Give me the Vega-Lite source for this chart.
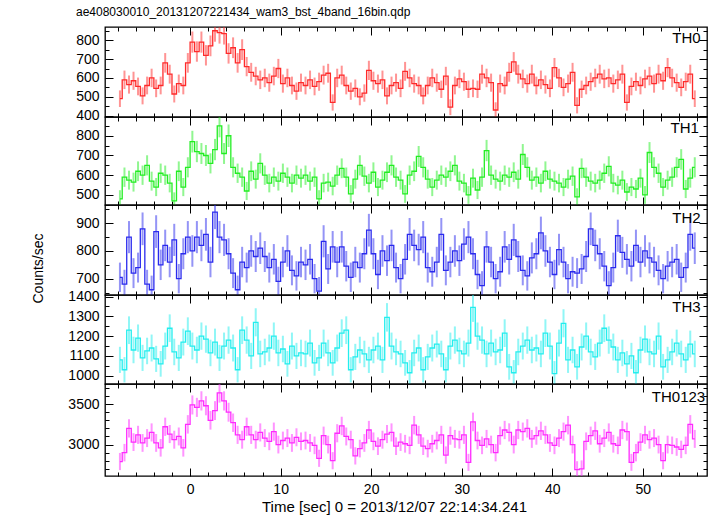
{
"$schema":"https://vega.github.io/schema/vega-lite/v6.json",
"padding":{"left":30,"top":5,"right":5,"bottom":5},
"spacing":0,
"bounds":"flush",
"config":{"view":{"stroke":"#000","strokeWidth":1.3},"axis":{"grid":false,"domain":false,"labelFont":"Liberation Sans","labelFontSize":14,"labelColor":"#000","tickColor":"#000","tickWidth":1,"labelFlush":false,"labelOverlap":false,"titleFont":"Liberation Sans","titleFontWeight":"normal","titleColor":"#000"}},
"datasets":{
"TH0":[
{"t":-7.75,"y":490,"e":44},{"t":-7.25,"y":590,"e":49},{"t":-6.75,"y":565,"e":48},{"t":-6.25,"y":585,"e":48},{"t":-5.75,"y":555,"e":47},{"t":-5.25,"y":505,"e":45},{"t":-4.75,"y":560,"e":47},{"t":-4.25,"y":600,"e":49},{"t":-3.75,"y":545,"e":47},{"t":-3.25,"y":560,"e":47},{"t":-2.75,"y":680,"e":52},{"t":-2.25,"y":620,"e":50},{"t":-1.75,"y":515,"e":45},{"t":-1.25,"y":570,"e":48},{"t":-0.75,"y":560,"e":47},{"t":-0.25,"y":680,"e":52},
{"t":0.25,"y":790,"e":56},{"t":0.75,"y":740,"e":54},{"t":1.25,"y":790,"e":56},{"t":1.75,"y":720,"e":54},{"t":2.25,"y":770,"e":55},{"t":2.75,"y":850,"e":58},{"t":3.25,"y":840,"e":58},{"t":3.75,"y":835,"e":58},{"t":4.25,"y":730,"e":54},{"t":4.75,"y":760,"e":55},{"t":5.25,"y":680,"e":52},{"t":5.75,"y":750,"e":55},{"t":6.25,"y":660,"e":51},{"t":6.75,"y":630,"e":50},{"t":7.25,"y":610,"e":49},{"t":7.75,"y":590,"e":49},
{"t":8.25,"y":600,"e":49},{"t":8.75,"y":575,"e":48},{"t":9.25,"y":610,"e":49},{"t":9.75,"y":650,"e":51},{"t":10.25,"y":570,"e":48},{"t":10.75,"y":600,"e":49},{"t":11.25,"y":560,"e":47},{"t":11.75,"y":530,"e":46},{"t":12.25,"y":575,"e":48},{"t":12.75,"y":560,"e":47},{"t":13.25,"y":590,"e":49},{"t":13.75,"y":555,"e":47},{"t":14.25,"y":580,"e":48},{"t":14.75,"y":615,"e":50},{"t":15.25,"y":625,"e":50},{"t":15.75,"y":470,"e":43},
{"t":16.25,"y":600,"e":49},{"t":16.75,"y":615,"e":50},{"t":17.25,"y":560,"e":47},{"t":17.75,"y":530,"e":46},{"t":18.25,"y":545,"e":47},{"t":18.75,"y":500,"e":45},{"t":19.25,"y":520,"e":46},{"t":19.75,"y":640,"e":51},{"t":20.25,"y":585,"e":48},{"t":20.75,"y":570,"e":48},{"t":21.25,"y":590,"e":49},{"t":21.75,"y":505,"e":45},{"t":22.25,"y":560,"e":47},{"t":22.75,"y":575,"e":48},{"t":23.25,"y":545,"e":47},{"t":23.75,"y":635,"e":50},
{"t":24.25,"y":600,"e":49},{"t":24.75,"y":570,"e":48},{"t":25.25,"y":560,"e":47},{"t":25.75,"y":505,"e":45},{"t":26.25,"y":560,"e":47},{"t":26.75,"y":600,"e":49},{"t":27.25,"y":575,"e":48},{"t":27.75,"y":540,"e":46},{"t":28.25,"y":610,"e":49},{"t":28.75,"y":445,"e":42},{"t":29.25,"y":560,"e":47},{"t":29.75,"y":595,"e":49},{"t":30.25,"y":580,"e":48},{"t":30.75,"y":540,"e":46},{"t":31.25,"y":545,"e":47},{"t":31.75,"y":540,"e":46},
{"t":32.25,"y":620,"e":50},{"t":32.75,"y":600,"e":49},{"t":33.25,"y":575,"e":48},{"t":33.75,"y":430,"e":41},{"t":34.25,"y":570,"e":48},{"t":34.75,"y":560,"e":47},{"t":35.25,"y":630,"e":50},{"t":35.75,"y":685,"e":52},{"t":36.25,"y":620,"e":50},{"t":36.75,"y":595,"e":49},{"t":37.25,"y":570,"e":48},{"t":37.75,"y":620,"e":50},{"t":38.25,"y":560,"e":47},{"t":38.75,"y":590,"e":49},{"t":39.25,"y":565,"e":48},{"t":39.75,"y":545,"e":47},
{"t":40.25,"y":655,"e":51},{"t":40.75,"y":600,"e":49},{"t":41.25,"y":550,"e":47},{"t":41.75,"y":570,"e":48},{"t":42.25,"y":630,"e":50},{"t":42.75,"y":455,"e":43},{"t":43.25,"y":540,"e":46},{"t":43.75,"y":560,"e":47},{"t":44.25,"y":580,"e":48},{"t":44.75,"y":600,"e":49},{"t":45.25,"y":620,"e":50},{"t":45.75,"y":595,"e":49},{"t":46.25,"y":600,"e":49},{"t":46.75,"y":570,"e":48},{"t":47.25,"y":590,"e":49},{"t":47.75,"y":620,"e":50},
{"t":48.25,"y":470,"e":43},{"t":48.75,"y":555,"e":47},{"t":49.25,"y":580,"e":48},{"t":49.75,"y":560,"e":47},{"t":50.25,"y":595,"e":49},{"t":50.75,"y":610,"e":49},{"t":51.25,"y":570,"e":48},{"t":51.75,"y":620,"e":50},{"t":52.25,"y":585,"e":48},{"t":52.75,"y":655,"e":51},{"t":53.25,"y":600,"e":49},{"t":53.75,"y":575,"e":48},{"t":54.25,"y":550,"e":47},{"t":54.75,"y":580,"e":48},{"t":55.25,"y":620,"e":50},{"t":55.75,"y":490,"e":44}
],
"TH1":[
{"t":-7.75,"y":480,"e":44},{"t":-7.25,"y":590,"e":49},{"t":-6.75,"y":575,"e":48},{"t":-6.25,"y":565,"e":48},{"t":-5.75,"y":620,"e":50},{"t":-5.25,"y":600,"e":49},{"t":-4.75,"y":650,"e":51},{"t":-4.25,"y":570,"e":48},{"t":-3.75,"y":540,"e":46},{"t":-3.25,"y":610,"e":49},{"t":-2.75,"y":600,"e":49},{"t":-2.25,"y":560,"e":47},{"t":-1.75,"y":470,"e":43},{"t":-1.25,"y":620,"e":50},{"t":-0.75,"y":540,"e":46},{"t":-0.25,"y":640,"e":51},
{"t":0.25,"y":770,"e":55},{"t":0.75,"y":720,"e":54},{"t":1.25,"y":710,"e":53},{"t":1.75,"y":700,"e":53},{"t":2.25,"y":660,"e":51},{"t":2.75,"y":730,"e":54},{"t":3.25,"y":850,"e":58},{"t":3.75,"y":710,"e":53},{"t":4.25,"y":800,"e":57},{"t":4.75,"y":640,"e":51},{"t":5.25,"y":610,"e":49},{"t":5.75,"y":590,"e":49},{"t":6.25,"y":520,"e":46},{"t":6.75,"y":620,"e":50},{"t":7.25,"y":580,"e":48},{"t":7.75,"y":660,"e":51},
{"t":8.25,"y":600,"e":49},{"t":8.75,"y":560,"e":47},{"t":9.25,"y":590,"e":49},{"t":9.75,"y":570,"e":48},{"t":10.25,"y":610,"e":49},{"t":10.75,"y":590,"e":49},{"t":11.25,"y":560,"e":47},{"t":11.75,"y":600,"e":49},{"t":12.25,"y":585,"e":48},{"t":12.75,"y":600,"e":49},{"t":13.25,"y":570,"e":48},{"t":13.75,"y":590,"e":49},{"t":14.25,"y":480,"e":44},{"t":14.75,"y":560,"e":47},{"t":15.25,"y":565,"e":48},{"t":15.75,"y":545,"e":47},
{"t":16.25,"y":600,"e":49},{"t":16.75,"y":635,"e":50},{"t":17.25,"y":590,"e":49},{"t":17.75,"y":505,"e":45},{"t":18.25,"y":580,"e":48},{"t":18.75,"y":650,"e":51},{"t":19.25,"y":595,"e":49},{"t":19.75,"y":560,"e":47},{"t":20.25,"y":615,"e":50},{"t":20.75,"y":540,"e":46},{"t":21.25,"y":575,"e":48},{"t":21.75,"y":615,"e":50},{"t":22.25,"y":650,"e":51},{"t":22.75,"y":590,"e":49},{"t":23.25,"y":575,"e":48},{"t":23.75,"y":505,"e":45},
{"t":24.25,"y":600,"e":49},{"t":24.75,"y":620,"e":50},{"t":25.25,"y":695,"e":53},{"t":25.75,"y":640,"e":51},{"t":26.25,"y":580,"e":48},{"t":26.75,"y":540,"e":46},{"t":27.25,"y":575,"e":48},{"t":27.75,"y":600,"e":49},{"t":28.25,"y":590,"e":49},{"t":28.75,"y":620,"e":50},{"t":29.25,"y":650,"e":51},{"t":29.75,"y":570,"e":48},{"t":30.25,"y":560,"e":47},{"t":30.75,"y":500,"e":45},{"t":31.25,"y":585,"e":48},{"t":31.75,"y":525,"e":46},
{"t":32.25,"y":590,"e":49},{"t":32.75,"y":725,"e":54},{"t":33.25,"y":600,"e":49},{"t":33.75,"y":580,"e":48},{"t":34.25,"y":570,"e":48},{"t":34.75,"y":600,"e":49},{"t":35.25,"y":590,"e":49},{"t":35.75,"y":615,"e":50},{"t":36.25,"y":580,"e":48},{"t":36.75,"y":705,"e":53},{"t":37.25,"y":640,"e":51},{"t":37.75,"y":575,"e":48},{"t":38.25,"y":590,"e":49},{"t":38.75,"y":560,"e":47},{"t":39.25,"y":620,"e":50},{"t":39.75,"y":580,"e":48},
{"t":40.25,"y":570,"e":48},{"t":40.75,"y":560,"e":47},{"t":41.25,"y":540,"e":46},{"t":41.75,"y":580,"e":48},{"t":42.25,"y":595,"e":49},{"t":42.75,"y":490,"e":44},{"t":43.25,"y":635,"e":50},{"t":43.75,"y":590,"e":49},{"t":44.25,"y":570,"e":48},{"t":44.75,"y":560,"e":47},{"t":45.25,"y":575,"e":48},{"t":45.75,"y":610,"e":49},{"t":46.25,"y":645,"e":51},{"t":46.75,"y":560,"e":47},{"t":47.25,"y":550,"e":47},{"t":47.75,"y":575,"e":48},
{"t":48.25,"y":515,"e":45},{"t":48.75,"y":540,"e":46},{"t":49.25,"y":530,"e":46},{"t":49.75,"y":585,"e":48},{"t":50.25,"y":500,"e":45},{"t":50.75,"y":715,"e":53},{"t":51.25,"y":640,"e":51},{"t":51.75,"y":610,"e":49},{"t":52.25,"y":540,"e":46},{"t":52.75,"y":575,"e":48},{"t":53.25,"y":590,"e":49},{"t":53.75,"y":640,"e":51},{"t":54.25,"y":680,"e":52},{"t":54.75,"y":530,"e":46},{"t":55.25,"y":585,"e":48},{"t":55.75,"y":640,"e":51}
],
"TH2":[
{"t":-7.75,"y":705,"e":53},{"t":-7.25,"y":680,"e":52},{"t":-6.75,"y":850,"e":58},{"t":-6.25,"y":720,"e":54},{"t":-5.75,"y":740,"e":54},{"t":-5.25,"y":880,"e":59},{"t":-4.75,"y":680,"e":52},{"t":-4.25,"y":660,"e":51},{"t":-3.75,"y":870,"e":59},{"t":-3.25,"y":750,"e":55},{"t":-2.75,"y":820,"e":57},{"t":-2.25,"y":760,"e":55},{"t":-1.75,"y":840,"e":58},{"t":-1.25,"y":700,"e":53},{"t":-0.75,"y":790,"e":56},{"t":-0.25,"y":850,"e":58},
{"t":0.25,"y":800,"e":57},{"t":0.75,"y":850,"e":58},{"t":1.25,"y":820,"e":57},{"t":1.75,"y":860,"e":59},{"t":2.25,"y":760,"e":55},{"t":2.75,"y":940,"e":61},{"t":3.25,"y":850,"e":58},{"t":3.75,"y":840,"e":58},{"t":4.25,"y":790,"e":56},{"t":4.75,"y":720,"e":54},{"t":5.25,"y":660,"e":51},{"t":5.75,"y":760,"e":55},{"t":6.25,"y":740,"e":54},{"t":6.75,"y":800,"e":57},{"t":7.25,"y":780,"e":56},{"t":7.75,"y":810,"e":57},
{"t":8.25,"y":780,"e":56},{"t":8.75,"y":740,"e":54},{"t":9.25,"y":770,"e":55},{"t":9.75,"y":690,"e":53},{"t":10.25,"y":760,"e":55},{"t":10.75,"y":800,"e":57},{"t":11.25,"y":730,"e":54},{"t":11.75,"y":710,"e":53},{"t":12.25,"y":760,"e":55},{"t":12.75,"y":750,"e":55},{"t":13.25,"y":770,"e":55},{"t":13.75,"y":700,"e":53},{"t":14.25,"y":655,"e":51},{"t":14.75,"y":835,"e":58},{"t":15.25,"y":735,"e":54},{"t":15.75,"y":815,"e":57},
{"t":16.25,"y":760,"e":55},{"t":16.75,"y":815,"e":57},{"t":17.25,"y":745,"e":55},{"t":17.75,"y":705,"e":53},{"t":18.25,"y":760,"e":55},{"t":18.75,"y":740,"e":54},{"t":19.25,"y":790,"e":56},{"t":19.75,"y":875,"e":59},{"t":20.25,"y":790,"e":56},{"t":20.75,"y":715,"e":53},{"t":21.25,"y":800,"e":57},{"t":21.75,"y":765,"e":55},{"t":22.25,"y":820,"e":57},{"t":22.75,"y":740,"e":54},{"t":23.25,"y":700,"e":53},{"t":23.75,"y":770,"e":55},
{"t":24.25,"y":860,"e":59},{"t":24.75,"y":820,"e":57},{"t":25.25,"y":805,"e":57},{"t":25.75,"y":850,"e":58},{"t":26.25,"y":740,"e":54},{"t":26.75,"y":725,"e":54},{"t":27.25,"y":760,"e":55},{"t":27.75,"y":860,"e":59},{"t":28.25,"y":730,"e":54},{"t":28.75,"y":760,"e":55},{"t":29.25,"y":800,"e":57},{"t":29.75,"y":765,"e":55},{"t":30.25,"y":825,"e":57},{"t":30.75,"y":850,"e":58},{"t":31.25,"y":790,"e":56},{"t":31.75,"y":715,"e":53},
{"t":32.25,"y":675,"e":52},{"t":32.75,"y":815,"e":57},{"t":33.25,"y":760,"e":55},{"t":33.75,"y":700,"e":53},{"t":34.25,"y":725,"e":54},{"t":34.75,"y":815,"e":57},{"t":35.25,"y":770,"e":55},{"t":35.75,"y":840,"e":58},{"t":36.25,"y":780,"e":56},{"t":36.75,"y":730,"e":54},{"t":37.25,"y":710,"e":53},{"t":37.75,"y":775,"e":56},{"t":38.25,"y":790,"e":56},{"t":38.75,"y":865,"e":59},{"t":39.25,"y":800,"e":57},{"t":39.75,"y":760,"e":55},
{"t":40.25,"y":715,"e":53},{"t":40.75,"y":805,"e":57},{"t":41.25,"y":760,"e":55},{"t":41.75,"y":700,"e":53},{"t":42.25,"y":725,"e":54},{"t":42.75,"y":720,"e":54},{"t":43.25,"y":735,"e":54},{"t":43.75,"y":780,"e":56},{"t":44.25,"y":880,"e":59},{"t":44.75,"y":820,"e":57},{"t":45.25,"y":790,"e":56},{"t":45.75,"y":745,"e":55},{"t":46.25,"y":675,"e":52},{"t":46.75,"y":740,"e":54},{"t":47.25,"y":855,"e":58},{"t":47.75,"y":795,"e":56},
{"t":48.25,"y":770,"e":55},{"t":48.75,"y":745,"e":55},{"t":49.25,"y":820,"e":57},{"t":49.75,"y":760,"e":55},{"t":50.25,"y":800,"e":57},{"t":50.75,"y":775,"e":56},{"t":51.25,"y":760,"e":55},{"t":51.75,"y":730,"e":54},{"t":52.25,"y":700,"e":53},{"t":52.75,"y":745,"e":55},{"t":53.25,"y":760,"e":55},{"t":53.75,"y":770,"e":55},{"t":54.25,"y":705,"e":53},{"t":54.75,"y":740,"e":54},{"t":55.25,"y":860,"e":59},{"t":55.75,"y":810,"e":57}
],
"TH3":[
{"t":-7.75,"y":1080,"e":66},{"t":-7.25,"y":1030,"e":64},{"t":-6.75,"y":1230,"e":70},{"t":-6.25,"y":1130,"e":67},{"t":-5.75,"y":1190,"e":69},{"t":-5.25,"y":1090,"e":66},{"t":-4.75,"y":1125,"e":67},{"t":-4.25,"y":1140,"e":68},{"t":-3.75,"y":1085,"e":66},{"t":-3.25,"y":1060,"e":65},{"t":-2.75,"y":1150,"e":68},{"t":-2.25,"y":1240,"e":70},{"t":-1.75,"y":1120,"e":67},{"t":-1.25,"y":1090,"e":66},{"t":-0.75,"y":1170,"e":68},{"t":-0.25,"y":1225,"e":70},
{"t":0.25,"y":1150,"e":68},{"t":0.75,"y":1130,"e":67},{"t":1.25,"y":1200,"e":69},{"t":1.75,"y":1185,"e":69},{"t":2.25,"y":1115,"e":67},{"t":2.75,"y":1170,"e":68},{"t":3.25,"y":1090,"e":66},{"t":3.75,"y":1150,"e":68},{"t":4.25,"y":1180,"e":69},{"t":4.75,"y":1140,"e":68},{"t":5.25,"y":1030,"e":64},{"t":5.75,"y":1230,"e":70},{"t":6.25,"y":1180,"e":69},{"t":6.75,"y":1100,"e":66},{"t":7.25,"y":1270,"e":71},{"t":7.75,"y":1110,"e":67},
{"t":8.25,"y":1120,"e":67},{"t":8.75,"y":1140,"e":68},{"t":9.25,"y":1200,"e":69},{"t":9.75,"y":1115,"e":67},{"t":10.25,"y":1135,"e":67},{"t":10.75,"y":1060,"e":65},{"t":11.25,"y":1150,"e":68},{"t":11.75,"y":1100,"e":66},{"t":12.25,"y":1115,"e":67},{"t":12.75,"y":1110,"e":67},{"t":13.25,"y":1165,"e":68},{"t":13.75,"y":1065,"e":65},{"t":14.25,"y":1090,"e":66},{"t":14.75,"y":1165,"e":68},{"t":15.25,"y":1115,"e":67},{"t":15.75,"y":1065,"e":65},
{"t":16.25,"y":1140,"e":68},{"t":16.75,"y":1215,"e":70},{"t":17.25,"y":1230,"e":70},{"t":17.75,"y":1030,"e":64},{"t":18.25,"y":1095,"e":66},{"t":18.75,"y":1130,"e":67},{"t":19.25,"y":1110,"e":67},{"t":19.75,"y":1080,"e":66},{"t":20.25,"y":1130,"e":67},{"t":20.75,"y":1150,"e":68},{"t":21.25,"y":1080,"e":66},{"t":21.75,"y":1295,"e":72},{"t":22.25,"y":1150,"e":68},{"t":22.75,"y":1120,"e":67},{"t":23.25,"y":1110,"e":67},{"t":23.75,"y":1065,"e":65},
{"t":24.25,"y":1015,"e":64},{"t":24.75,"y":1115,"e":67},{"t":25.25,"y":1140,"e":68},{"t":25.75,"y":1030,"e":64},{"t":26.25,"y":1095,"e":66},{"t":26.75,"y":1140,"e":68},{"t":27.25,"y":1160,"e":68},{"t":27.75,"y":1110,"e":67},{"t":28.25,"y":1030,"e":64},{"t":28.75,"y":1150,"e":68},{"t":29.25,"y":1180,"e":69},{"t":29.75,"y":1125,"e":67},{"t":30.25,"y":1110,"e":67},{"t":30.75,"y":1165,"e":68},{"t":31.25,"y":1345,"e":73},{"t":31.75,"y":1200,"e":69},
{"t":32.25,"y":1180,"e":69},{"t":32.75,"y":1110,"e":67},{"t":33.25,"y":1165,"e":68},{"t":33.75,"y":1120,"e":67},{"t":34.25,"y":1130,"e":67},{"t":34.75,"y":1215,"e":70},{"t":35.25,"y":1045,"e":65},{"t":35.75,"y":1015,"e":64},{"t":36.25,"y":1120,"e":67},{"t":36.75,"y":1150,"e":68},{"t":37.25,"y":1180,"e":69},{"t":37.75,"y":1130,"e":67},{"t":38.25,"y":1140,"e":68},{"t":38.75,"y":1110,"e":67},{"t":39.25,"y":1215,"e":70},{"t":39.75,"y":1150,"e":68},
{"t":40.25,"y":1010,"e":64},{"t":40.75,"y":1165,"e":68},{"t":41.25,"y":1265,"e":71},{"t":41.75,"y":1080,"e":66},{"t":42.25,"y":1130,"e":67},{"t":42.75,"y":1045,"e":65},{"t":43.25,"y":1145,"e":68},{"t":43.75,"y":1200,"e":69},{"t":44.25,"y":1120,"e":67},{"t":44.75,"y":1095,"e":66},{"t":45.25,"y":1165,"e":68},{"t":45.75,"y":1240,"e":70},{"t":46.25,"y":1180,"e":69},{"t":46.75,"y":1145,"e":68},{"t":47.25,"y":1080,"e":66},{"t":47.75,"y":1115,"e":67},
{"t":48.25,"y":1060,"e":65},{"t":48.75,"y":1100,"e":66},{"t":49.25,"y":1015,"e":64},{"t":49.75,"y":1130,"e":67},{"t":50.25,"y":1185,"e":69},{"t":50.75,"y":1120,"e":67},{"t":51.25,"y":1110,"e":67},{"t":51.75,"y":1200,"e":69},{"t":52.25,"y":1045,"e":65},{"t":52.75,"y":1080,"e":66},{"t":53.25,"y":1120,"e":67},{"t":53.75,"y":1165,"e":68},{"t":54.25,"y":1110,"e":67},{"t":54.75,"y":1080,"e":66},{"t":55.25,"y":1160,"e":68},{"t":55.75,"y":1110,"e":67}
],
"TH0123":[
{"t":-7.75,"y":2790,"e":106},{"t":-7.25,"y":2900,"e":108},{"t":-6.75,"y":3200,"e":113},{"t":-6.25,"y":3030,"e":110},{"t":-5.75,"y":3120,"e":112},{"t":-5.25,"y":3020,"e":110},{"t":-4.75,"y":3080,"e":111},{"t":-4.25,"y":3150,"e":112},{"t":-3.75,"y":3020,"e":110},{"t":-3.25,"y":2960,"e":109},{"t":-2.75,"y":3220,"e":113},{"t":-2.25,"y":3130,"e":112},{"t":-1.75,"y":3060,"e":111},{"t":-1.25,"y":3100,"e":111},{"t":-0.75,"y":2960,"e":109},{"t":-0.25,"y":3250,"e":114},
{"t":0.25,"y":3490,"e":118},{"t":0.75,"y":3460,"e":118},{"t":1.25,"y":3540,"e":119},{"t":1.75,"y":3480,"e":118},{"t":2.25,"y":3300,"e":115},{"t":2.75,"y":3420,"e":117},{"t":3.25,"y":3640,"e":121},{"t":3.75,"y":3540,"e":119},{"t":4.25,"y":3400,"e":117},{"t":4.75,"y":3270,"e":114},{"t":5.25,"y":3120,"e":112},{"t":5.75,"y":3060,"e":111},{"t":6.25,"y":3220,"e":113},{"t":6.75,"y":3120,"e":112},{"t":7.25,"y":3060,"e":111},{"t":7.75,"y":3150,"e":112},
{"t":8.25,"y":3080,"e":111},{"t":8.75,"y":3040,"e":110},{"t":9.25,"y":3160,"e":112},{"t":9.75,"y":3000,"e":110},{"t":10.25,"y":3050,"e":110},{"t":10.75,"y":3080,"e":111},{"t":11.25,"y":3020,"e":110},{"t":11.75,"y":3090,"e":111},{"t":12.25,"y":3040,"e":110},{"t":12.75,"y":3050,"e":110},{"t":13.25,"y":3020,"e":110},{"t":13.75,"y":2990,"e":109},{"t":14.25,"y":2830,"e":106},{"t":14.75,"y":3110,"e":112},{"t":15.25,"y":3000,"e":110},{"t":15.75,"y":2800,"e":106},
{"t":16.25,"y":3140,"e":112},{"t":16.75,"y":3230,"e":114},{"t":17.25,"y":3100,"e":111},{"t":17.75,"y":3060,"e":111},{"t":18.25,"y":2860,"e":107},{"t":18.75,"y":2950,"e":109},{"t":19.25,"y":3020,"e":110},{"t":19.75,"y":3180,"e":113},{"t":20.25,"y":3040,"e":110},{"t":20.75,"y":2980,"e":109},{"t":21.25,"y":3060,"e":111},{"t":21.75,"y":3130,"e":112},{"t":22.25,"y":3150,"e":112},{"t":22.75,"y":2980,"e":109},{"t":23.25,"y":3030,"e":110},{"t":23.75,"y":3010,"e":110},
{"t":24.25,"y":2990,"e":109},{"t":24.75,"y":3240,"e":114},{"t":25.25,"y":3120,"e":112},{"t":25.75,"y":2980,"e":109},{"t":26.25,"y":2950,"e":109},{"t":26.75,"y":3010,"e":110},{"t":27.25,"y":3050,"e":110},{"t":27.75,"y":3120,"e":112},{"t":28.25,"y":2870,"e":107},{"t":28.75,"y":3110,"e":112},{"t":29.25,"y":3070,"e":111},{"t":29.75,"y":3060,"e":111},{"t":30.25,"y":3120,"e":112},{"t":30.75,"y":2780,"e":105},{"t":31.25,"y":3280,"e":115},{"t":31.75,"y":3050,"e":110},
{"t":32.25,"y":2990,"e":109},{"t":32.75,"y":3070,"e":111},{"t":33.25,"y":3000,"e":110},{"t":33.75,"y":2900,"e":108},{"t":34.25,"y":3110,"e":112},{"t":34.75,"y":3180,"e":113},{"t":35.25,"y":3150,"e":112},{"t":35.75,"y":3000,"e":110},{"t":36.25,"y":3180,"e":113},{"t":36.75,"y":3160,"e":112},{"t":37.25,"y":3200,"e":113},{"t":37.75,"y":3070,"e":111},{"t":38.25,"y":3110,"e":112},{"t":38.75,"y":3170,"e":113},{"t":39.25,"y":3120,"e":112},{"t":39.75,"y":3020,"e":110},
{"t":40.25,"y":2990,"e":109},{"t":40.75,"y":3080,"e":111},{"t":41.25,"y":3160,"e":112},{"t":41.75,"y":3240,"e":114},{"t":42.25,"y":3000,"e":110},{"t":42.75,"y":2690,"e":104},{"t":43.25,"y":2700,"e":104},{"t":43.75,"y":3040,"e":110},{"t":44.25,"y":3110,"e":112},{"t":44.75,"y":3170,"e":113},{"t":45.25,"y":3010,"e":110},{"t":45.75,"y":3080,"e":111},{"t":46.25,"y":3150,"e":112},{"t":46.75,"y":3010,"e":110},{"t":47.25,"y":2990,"e":109},{"t":47.75,"y":3180,"e":113},
{"t":48.25,"y":3160,"e":112},{"t":48.75,"y":2780,"e":105},{"t":49.25,"y":2900,"e":108},{"t":49.75,"y":3030,"e":110},{"t":50.25,"y":3120,"e":112},{"t":50.75,"y":3060,"e":111},{"t":51.25,"y":3080,"e":111},{"t":51.75,"y":3000,"e":110},{"t":52.25,"y":2800,"e":106},{"t":52.75,"y":3000,"e":110},{"t":53.25,"y":2990,"e":109},{"t":53.75,"y":2970,"e":109},{"t":54.25,"y":2940,"e":108},{"t":54.75,"y":2990,"e":109},{"t":55.25,"y":3250,"e":114},{"t":55.75,"y":3070,"e":111}
]
},
"vconcat":[
{"width":602,"height":90,
 "title":{"text":"ae408030010_20131207221434_wam3_bst_4band_16bin.qdp","anchor":"start","frame":"group","dx":-29,"fontSize":12,"font":"Liberation Sans","fontWeight":"normal","color":"#000","offset":5},
 "resolve":{"axis":{"x":"independent","y":"independent"}},
 "layer":[
  {"data":{"name":"TH0"},"mark":{"type":"errorbar","ticks":false,"color":"#ff2a2a","opacity":0.5,"thickness":2},
   "encoding":{"x":{"field":"t","type":"quantitative","scale":{"domain":[-9.4,57.1],"nice":false},"axis":{"orient":"bottom","values":[-8,-6,-4,-2,0,2,4,6,8,10,12,14,16,18,20,22,24,26,28,30,32,34,36,38,40,42,44,46,48,50,52,54,56],"labels":false,"title":null,"tickSize":{"condition":{"test":"datum.value % 10 === 0","value":-8},"value":-4}}},
    "y":{"field":"y","type":"quantitative","scale":{"domain":[393,870],"nice":false,"zero":false,"clamp":true},"axis":{"orient":"left","format":"d","values":[400,450,500,550,600,650,700,750,800,850],"title":null,"labelPadding":14,"labelExpr":"datum.value % 100 === 0 ? datum.label : ''","tickSize":{"condition":{"test":"datum.value % 100 === 0","value":-8},"value":-4}}},
    "yError":{"field":"e"}}},
  {"data":{"name":"TH0"},"mark":{"type":"line","interpolate":"step","color":"#ff2a2a","strokeWidth":1.3},
   "encoding":{"x":{"field":"t","type":"quantitative","axis":{"orient":"top","values":[-8,-6,-4,-2,0,2,4,6,8,10,12,14,16,18,20,22,24,26,28,30,32,34,36,38,40,42,44,46,48,50,52,54,56],"labels":false,"title":null,"tickSize":{"condition":{"test":"datum.value % 10 === 0","value":-8},"value":-4}}},
    "y":{"field":"y","type":"quantitative","axis":{"orient":"right","values":[400,450,500,550,600,650,700,750,800,850],"labels":false,"title":null,"tickSize":{"condition":{"test":"datum.value % 100 === 0","value":-8},"value":-4}}}}},
  {"data":{"values":[{"lab":"TH0"}]},"mark":{"type":"text","align":"right","baseline":"middle","fontSize":15,"font":"Liberation Sans","color":"#000"},
   "encoding":{"text":{"field":"lab"},"x":{"datum":56.4,"type":"quantitative","axis":null},"y":{"datum":810,"type":"quantitative","axis":null}}}
 ]},
{"width":602,"height":88,
 "resolve":{"axis":{"x":"independent","y":"independent"}},
 "layer":[
  {"data":{"name":"TH1"},"mark":{"type":"errorbar","ticks":false,"color":"#22ee22","opacity":0.5,"thickness":2},
   "encoding":{"x":{"field":"t","type":"quantitative","scale":{"domain":[-9.4,57.1],"nice":false},"axis":{"orient":"bottom","values":[-8,-6,-4,-2,0,2,4,6,8,10,12,14,16,18,20,22,24,26,28,30,32,34,36,38,40,42,44,46,48,50,52,54,56],"labels":false,"title":null,"tickSize":{"condition":{"test":"datum.value % 10 === 0","value":-8},"value":-4}}},
    "y":{"field":"y","type":"quantitative","scale":{"domain":[449,895],"nice":false,"zero":false,"clamp":true},"axis":{"orient":"left","format":"d","values":[450,500,550,600,650,700,750,800,850],"title":null,"labelPadding":14,"labelExpr":"datum.value % 100 === 0 ? datum.label : ''","tickSize":{"condition":{"test":"datum.value % 100 === 0","value":-8},"value":-4}}},
    "yError":{"field":"e"}}},
  {"data":{"name":"TH1"},"mark":{"type":"line","interpolate":"step","color":"#22ee22","strokeWidth":1.3},
   "encoding":{"x":{"field":"t","type":"quantitative","axis":{"orient":"top","values":[-8,-6,-4,-2,0,2,4,6,8,10,12,14,16,18,20,22,24,26,28,30,32,34,36,38,40,42,44,46,48,50,52,54,56],"labels":false,"title":null,"tickSize":{"condition":{"test":"datum.value % 10 === 0","value":-8},"value":-4}}},
    "y":{"field":"y","type":"quantitative","axis":{"orient":"right","values":[450,500,550,600,650,700,750,800,850],"labels":false,"title":null,"tickSize":{"condition":{"test":"datum.value % 100 === 0","value":-8},"value":-4}}}}},
  {"data":{"values":[{"lab":"TH1"}]},"mark":{"type":"text","align":"right","baseline":"middle","fontSize":15,"font":"Liberation Sans","color":"#000"},
   "encoding":{"text":{"field":"lab"},"x":{"datum":56.2,"type":"quantitative","axis":null},"y":{"datum":840,"type":"quantitative","axis":null}}}
 ]},
{"width":602,"height":90,
 "resolve":{"axis":{"x":"independent","y":"independent"}},
 "layer":[
  {"data":{"name":"TH2"},"mark":{"type":"errorbar","ticks":false,"color":"#2a2aee","opacity":0.5,"thickness":2},
   "encoding":{"x":{"field":"t","type":"quantitative","scale":{"domain":[-9.4,57.1],"nice":false},"axis":{"orient":"bottom","values":[-8,-6,-4,-2,0,2,4,6,8,10,12,14,16,18,20,22,24,26,28,30,32,34,36,38,40,42,44,46,48,50,52,54,56],"labels":false,"title":null,"tickSize":{"condition":{"test":"datum.value % 10 === 0","value":-8},"value":-4}}},
    "y":{"field":"y","type":"quantitative","scale":{"domain":[641,966],"nice":false,"zero":false,"clamp":true},"axis":{"orient":"left","format":"d","values":[650,700,750,800,850,900,950],"title":"Counts/sec","titleFontSize":14,"titleX":-67,"titleY":63,"titleAngle":-90,"titleAlign":"center","titleBaseline":"middle","labelPadding":14,"labelExpr":"datum.value % 100 === 0 ? datum.label : ''","tickSize":{"condition":{"test":"datum.value % 100 === 0","value":-8},"value":-4}}},
    "yError":{"field":"e"}}},
  {"data":{"name":"TH2"},"mark":{"type":"line","interpolate":"step","color":"#2a2aee","strokeWidth":1.3},
   "encoding":{"x":{"field":"t","type":"quantitative","axis":{"orient":"top","values":[-8,-6,-4,-2,0,2,4,6,8,10,12,14,16,18,20,22,24,26,28,30,32,34,36,38,40,42,44,46,48,50,52,54,56],"labels":false,"title":null,"tickSize":{"condition":{"test":"datum.value % 10 === 0","value":-8},"value":-4}}},
    "y":{"field":"y","type":"quantitative","axis":{"orient":"right","values":[650,700,750,800,850,900,950],"labels":false,"title":null,"tickSize":{"condition":{"test":"datum.value % 100 === 0","value":-8},"value":-4}}}}},
  {"data":{"values":[{"lab":"TH2"}]},"mark":{"type":"text","align":"right","baseline":"middle","fontSize":15,"font":"Liberation Sans","color":"#000"},
   "encoding":{"text":{"field":"lab"},"x":{"datum":56.4,"type":"quantitative","axis":null},"y":{"datum":920,"type":"quantitative","axis":null}}}
 ]},
{"width":602,"height":89,
 "resolve":{"axis":{"x":"independent","y":"independent"}},
 "layer":[
  {"data":{"name":"TH3"},"mark":{"type":"errorbar","ticks":false,"color":"#22eeee","opacity":0.5,"thickness":2},
   "encoding":{"x":{"field":"t","type":"quantitative","scale":{"domain":[-9.4,57.1],"nice":false},"axis":{"orient":"bottom","values":[-8,-6,-4,-2,0,2,4,6,8,10,12,14,16,18,20,22,24,26,28,30,32,34,36,38,40,42,44,46,48,50,52,54,56],"labels":false,"title":null,"tickSize":{"condition":{"test":"datum.value % 10 === 0","value":-8},"value":-4}}},
    "y":{"field":"y","type":"quantitative","scale":{"domain":[958,1408],"nice":false,"zero":false,"clamp":true},"axis":{"orient":"left","format":"d","values":[1000,1050,1100,1150,1200,1250,1300,1350,1400],"title":null,"labelPadding":14,"labelExpr":"datum.value % 100 === 0 ? datum.label : ''","tickSize":{"condition":{"test":"datum.value % 100 === 0","value":-8},"value":-4}}},
    "yError":{"field":"e"}}},
  {"data":{"name":"TH3"},"mark":{"type":"line","interpolate":"step","color":"#22eeee","strokeWidth":1.3},
   "encoding":{"x":{"field":"t","type":"quantitative","axis":{"orient":"top","values":[-8,-6,-4,-2,0,2,4,6,8,10,12,14,16,18,20,22,24,26,28,30,32,34,36,38,40,42,44,46,48,50,52,54,56],"labels":false,"title":null,"tickSize":{"condition":{"test":"datum.value % 10 === 0","value":-8},"value":-4}}},
    "y":{"field":"y","type":"quantitative","axis":{"orient":"right","values":[1000,1050,1100,1150,1200,1250,1300,1350,1400],"labels":false,"title":null,"tickSize":{"condition":{"test":"datum.value % 100 === 0","value":-8},"value":-4}}}}},
  {"data":{"values":[{"lab":"TH3"}]},"mark":{"type":"text","align":"right","baseline":"middle","fontSize":15,"font":"Liberation Sans","color":"#000"},
   "encoding":{"text":{"field":"lab"},"x":{"datum":56.4,"type":"quantitative","axis":null},"y":{"datum":1348,"type":"quantitative","axis":null}}}
 ]},
{"width":602,"height":92,
 "resolve":{"axis":{"x":"independent","y":"independent"}},
 "layer":[
  {"data":{"name":"TH0123"},"mark":{"type":"errorbar","ticks":false,"color":"#ff2aff","opacity":0.5,"thickness":2},
   "encoding":{"x":{"field":"t","type":"quantitative","scale":{"domain":[-9.4,57.1],"nice":false},"axis":{"orient":"bottom","format":"d","values":[-8,-6,-4,-2,0,2,4,6,8,10,12,14,16,18,20,22,24,26,28,30,32,34,36,38,40,42,44,46,48,50,52,54,56],"labelExpr":"datum.value % 10 === 0 ? datum.label : ''","labelPadding":14,"title":"Time [sec] 0 = 2013/12/07 22:14:34.241","titleFontSize":15,"titleX":289,"titleY":30,"titleAlign":"center","titleBaseline":"middle","tickSize":{"condition":{"test":"datum.value % 10 === 0","value":-8},"value":-4}}},
    "y":{"field":"y","type":"quantitative","scale":{"domain":[2611,3749],"nice":false,"zero":false,"clamp":true},"axis":{"orient":"left","format":"d","values":[2700,2800,2900,3000,3100,3200,3300,3400,3500,3600,3700],"title":null,"labelPadding":14,"labelExpr":"datum.value % 500 === 0 ? datum.label : ''","tickSize":{"condition":{"test":"datum.value % 500 === 0","value":-8},"value":-4}}},
    "yError":{"field":"e"}}},
  {"data":{"name":"TH0123"},"mark":{"type":"line","interpolate":"step","color":"#ff2aff","strokeWidth":1.3},
   "encoding":{"x":{"field":"t","type":"quantitative","axis":{"orient":"top","values":[-8,-6,-4,-2,0,2,4,6,8,10,12,14,16,18,20,22,24,26,28,30,32,34,36,38,40,42,44,46,48,50,52,54,56],"labels":false,"title":null,"tickSize":{"condition":{"test":"datum.value % 10 === 0","value":-8},"value":-4}}},
    "y":{"field":"y","type":"quantitative","axis":{"orient":"right","values":[2700,2800,2900,3000,3100,3200,3300,3400,3500,3600,3700],"labels":false,"title":null,"tickSize":{"condition":{"test":"datum.value % 500 === 0","value":-8},"value":-4}}}}},
  {"data":{"values":[{"lab":"TH0123"}]},"mark":{"type":"text","align":"right","baseline":"middle","fontSize":15,"font":"Liberation Sans","color":"#000"},
   "encoding":{"text":{"field":"lab"},"x":{"datum":56.9,"type":"quantitative","axis":null},"y":{"datum":3585,"type":"quantitative","axis":null}}}
 ]}
]
}
